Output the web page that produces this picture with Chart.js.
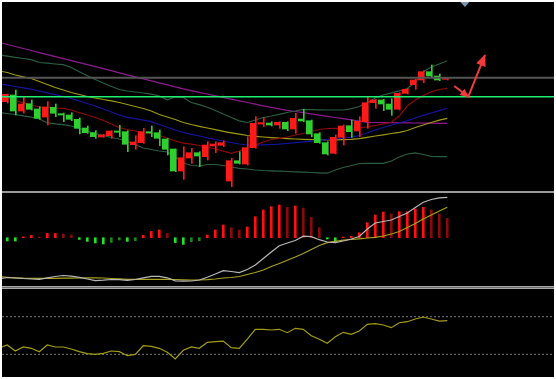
<!DOCTYPE html>
<html><head><meta charset="utf-8">
<script src="https://cdn.jsdelivr.net/npm/chart.js@4.4.1/dist/chart.umd.min.js"></script>
<style>
html,body{margin:0;padding:0;background:#fff;width:556px;height:379px;overflow:hidden;}
#frame{position:absolute;left:2px;top:2px;width:552px;height:375px;background:#000;}
canvas{position:absolute;left:0;}
.sep{position:absolute;left:0;width:552px;}
</style></head><body>
<div id="frame">
<canvas id="main" width="552" height="189" style="top:0"></canvas>
<div class="sep" style="top:189px;height:2px;background:#9a9a9a"></div>
<canvas id="macd" width="552" height="93" style="top:191px"></canvas>
<div class="sep" style="top:284px;height:3px;background:linear-gradient(#a8a8a8 0,#a8a8a8 1px,#6a6a6a 1px,#6a6a6a 2px,#a8a8a8 2px)"></div>
<canvas id="rsi" width="552" height="88" style="top:287px"></canvas>
</div>
<script>
// ---------- DATA ----------
// daily candles (index 0..55)
const open  = [9.83,10.50,8.90,9.63,9.10,8.30,9.27,8.63,8.50,8.07, 7.20,6.73,6.30,6.43,6.90,6.83,5.53,5.73,6.83,6.73, 6.10,5.10,2.90,4.20,4.73,4.33,5.40,5.47,1.90,3.93, 3.60,5.23,7.60,7.70,7.50,7.77,7.10,8.10,7.93,6.63, 5.73,4.67,6.27,7.43,6.90,7.83,9.73,10.00,9.60,9.07, 10.67,11.53,12.00,12.83,12.40,12.07];
const high  = [10.60,11.00,10.30,10.00,9.33,9.83,9.60,8.70,8.73,8.20, 7.40,6.93,6.57,6.93,7.47,6.93,6.43,7.17,7.40,7.00, 6.17,5.10,5.33,5.17,4.83,5.83,5.83,5.93,4.17,4.83, 6.33,8.33,8.27,7.83,7.83,7.83,8.67,9.07,8.00,6.73, 5.83,6.50,7.50,8.00,8.33,10.33,10.07,10.07,10.13,10.73, 11.17,12.07,12.93,13.50,12.60,12.27];
const low   = [9.70,8.50,8.70,9.00,8.07,7.50,8.33,7.83,7.93,6.60, 6.67,6.17,6.27,6.17,6.33,4.83,5.07,5.67,6.33,5.43, 4.50,2.83,2.07,3.67,3.33,4.00,4.73,5.33,1.33,3.60, 3.50,5.17,7.33,7.40,7.17,6.93,6.67,7.83,6.33,5.67, 4.50,4.60,5.50,6.27,6.33,7.17,9.17,8.93,8.47,9.00, 10.60,11.07,11.73,12.33,11.93,12.00];
const close = [10.57,8.90,9.60,9.07,8.17,9.30,8.67,8.50,8.07,7.17, 6.73,6.33,6.50,6.90,6.77,5.57,5.80,6.83,6.70,6.17, 5.07,2.90,4.23,4.73,4.40,5.50,5.60,5.73,3.93,3.67, 5.23,7.67,7.73,7.50,7.77,7.10,8.17,7.90,6.60,5.73, 4.60,6.27,7.40,6.83,7.87,9.73,10.00,9.60,9.07,10.67, 11.07,12.00,12.83,12.40,12.00,12.20];

// indicator lines start one day earlier (index -1 .. 55)
const lineStart = -1;
const maLong   = [15.75,15.55,15.35,15.15,14.95,14.74,14.54,14.34,14.14,13.94,13.73,13.53,13.33,13.13,12.93,12.72,12.52,12.32,12.12,11.92,11.71,11.51,11.31,11.11,10.94,10.77,10.60,10.42,10.25,10.08,9.92,9.75,9.58,9.42,9.26,9.11,8.97,8.85,8.73,8.61,8.49,8.37,8.25,8.13,8.01,7.89,7.77,7.75,7.74,7.73,7.72,7.71,7.70,7.69,7.68,7.67,7.67];
const bandUp   = [14.50,14.39,14.27,14.15,14.03,13.75,13.68,13.60,13.53,13.25,12.82,12.43,12.05,11.70,11.35,11.05,10.90,10.80,10.70,10.58,10.40,10.02,10.30,10.25,9.75,9.53,9.28,8.95,8.60,8.25,7.92,7.75,8.00,8.25,8.40,8.57,8.75,8.90,9.07,9.04,9.02,9.00,9.00,9.00,9.14,9.35,9.75,10.20,10.50,10.72,10.92,11.15,11.80,12.83,13.30,13.60,13.92];
const bandLow  = [8.73,8.65,8.55,8.42,8.28,8.10,7.73,7.62,7.54,7.40,7.15,6.90,6.65,6.45,6.25,6.10,5.85,5.55,5.20,5.05,4.90,4.80,4.30,3.70,3.45,3.40,3.55,3.55,3.45,3.30,3.17,3.10,3.00,2.95,2.92,2.88,2.85,2.82,2.78,2.75,2.72,2.68,3.00,3.25,3.45,3.65,3.67,3.67,3.67,3.90,4.30,4.60,4.72,4.55,4.35,4.33,4.33];
const maOlive  = [12.90,12.75,12.50,12.32,12.15,11.85,11.55,11.25,11.00,10.75,10.55,10.35,10.20,10.05,9.92,9.75,9.55,9.35,9.15,8.90,8.55,8.30,8.05,7.75,7.55,7.37,7.20,7.03,6.87,6.72,6.58,6.45,6.37,6.30,6.24,6.18,6.14,6.10,6.07,6.04,6.01,6.00,6.01,6.03,6.06,6.14,6.27,6.40,6.52,6.65,6.77,6.95,7.25,7.50,7.75,7.98,8.17];
const maBlue   = [11.60,11.48,11.35,11.22,11.08,10.90,10.72,10.54,10.35,10.15,9.90,9.65,9.40,9.10,8.80,8.50,8.27,8.13,7.98,7.83,7.55,7.27,7.00,6.75,6.57,6.40,6.22,6.05,5.90,5.75,5.60,5.50,5.50,5.52,5.55,5.58,5.65,5.73,5.81,5.89,5.96,6.04,6.12,6.20,6.27,6.45,6.70,7.00,7.25,7.50,7.70,7.92,8.20,8.47,8.70,8.93,9.17];
const maRed    = [10.35,10.22,9.95,9.72,9.50,9.30,9.25,9.20,9.17,9.00,8.73,8.50,8.25,7.95,7.60,7.25,7.05,6.90,6.75,6.67,6.45,6.20,5.90,5.68,5.58,5.45,5.30,5.10,4.88,4.67,4.90,5.25,5.50,5.80,6.05,6.15,6.30,6.50,6.65,6.85,7.05,7.15,7.17,6.95,7.05,7.20,7.32,7.45,7.60,7.77,8.40,9.40,10.00,10.45,10.82,11.05,11.17];

// horizontal levels
const levelGray  = 12.23;
const levelGreen = 10.33;

// hand-drawn arrow path (day index, price)
const arrowX = [55.875, 57.625, 59.71];
const arrowY = [11.40, 10.33, 14.50];
const markerX = 57.2;

// MACD histogram (0..55) and DIF / DEA lines (-1..55)
const macdHist = [-0.033,-0.033,0.008,0.023,0.007,0.043,0.043,0.037,0.027,-0.017, -0.037,-0.053,-0.063,-0.047,-0.023,-0.037,-0.030,0.023,0.063,0.077, 0.043,-0.050,-0.067,-0.040,-0.030,0.027,0.077,0.127,0.100,0.077, 0.107,0.210,0.277,0.310,0.327,0.303,0.317,0.293,0.203,0.100, -0.013,-0.040,0.007,0.013,0.050,0.150,0.227,0.257,0.237,0.260, 0.260,0.287,0.303,0.277,0.237,0.193];
const dif = [-0.413,-0.398,-0.403,-0.408,-0.413,-0.416,-0.401,-0.388,-0.378,-0.385,-0.396,-0.413,-0.429,-0.425,-0.418,-0.419,-0.427,-0.418,-0.401,-0.386,-0.386,-0.401,-0.431,-0.435,-0.433,-0.423,-0.396,-0.363,-0.330,-0.338,-0.349,-0.318,-0.273,-0.208,-0.143,-0.080,-0.053,-0.028,0.015,0.010,-0.020,-0.043,-0.049,-0.033,-0.013,0.012,0.087,0.147,0.162,0.177,0.212,0.247,0.302,0.354,0.382,0.399,0.404];
const dea = [-0.391,-0.396,-0.401,-0.405,-0.406,-0.406,-0.406,-0.406,-0.405,-0.404,-0.403,-0.401,-0.401,-0.403,-0.408,-0.412,-0.416,-0.416,-0.416,-0.416,-0.416,-0.416,-0.418,-0.421,-0.423,-0.423,-0.419,-0.413,-0.403,-0.398,-0.388,-0.368,-0.348,-0.323,-0.288,-0.258,-0.225,-0.193,-0.158,-0.118,-0.078,-0.050,-0.037,-0.025,-0.018,-0.011,-0.003,0.004,0.017,0.037,0.062,0.102,0.142,0.187,0.227,0.267,0.304];

// RSI (-1..55) and its guide levels
const rsi = [30.2,34.9,25.3,31.7,29.6,24.2,34.9,31.7,31.7,28.5,24.2,21.0,20.0,21.6,25.3,24.2,17.8,20.0,33.7,32.8,29.6,23.2,12.5,26.4,31.7,29.6,39.2,40.1,41.2,30.6,29.6,44.4,59.9,59.9,58.8,59.9,54.5,61.5,59.9,49.7,44.0,37.6,48.1,55.1,51.9,57.2,67.9,68.8,66.8,62.5,70.4,72.0,76.3,79.5,76.3,73.1,73.6];
const rsiLevels = [80, 20];

// ---------- CHARTS ----------
const X_MIN = -0.6625, X_MAX = 68.3375;
const UP = '#ff1a1a', DOWN = '#2fcf2f';
const fromLine = arr => arr.map((v,k)=>({x:k+lineStart, y:v}));
const days = open.map((_,i)=>i);
const xScale = {type:'linear', min:X_MIN, max:X_MAX, display:false, offset:false};
const baseOpts = (ymin,ymax)=>({
  responsive:false, animation:false, devicePixelRatio:1, events:[],
  layout:{padding:0},
  plugins:{legend:{display:false}, tooltip:{enabled:false}},
  scales:{x:xScale, y:{type:'linear', min:ymin, max:ymax, display:false}}
});
const line = (data,color,w,order,extra)=>Object.assign({type:'line', data, borderColor:color, borderWidth:w, pointRadius:0, tension:0, fill:false, order}, extra||{});
const hline = (v,color,w,order,extra)=>line([{x:X_MIN-1,y:v},{x:X_MAX+1,y:v}],color,w,order,extra);
const candleColor = ctx => close[ctx.dataIndex] >= open[ctx.dataIndex] ? UP : DOWN;

const arrowPlugin = {id:'arrows', afterDatasetsDraw(chart){
  const c = chart.ctx, xs = chart.scales.x, ys = chart.scales.y;
  const pts = arrowX.map((x,k)=>[xs.getPixelForValue(x), ys.getPixelForValue(arrowY[k])]);
  c.save();
  c.fillStyle = '#f23b3b';
  for (let k=1;k<pts.length;k++){
    const [x0,y0]=pts[k-1], [x1,y1]=pts[k];
    const a = Math.atan2(y1-y0,x1-x0);
    const L = k===1?8:11, W = k===1?4:5;
    const bx = x1-L*Math.cos(a), by = y1-L*Math.sin(a);
    c.beginPath();
    c.moveTo(x1+Math.cos(a),y1+Math.sin(a));
    c.lineTo(bx+W*Math.sin(a), by-W*Math.cos(a));
    c.lineTo(bx-W*Math.sin(a), by+W*Math.cos(a));
    c.closePath(); c.fill();
  }
  const mx = xs.getPixelForValue(markerX), top = chart.chartArea.top;
  c.fillStyle = '#8196aa';
  c.beginPath(); c.moveTo(mx-4.5,top); c.lineTo(mx+4.5,top); c.lineTo(mx,top+5); c.closePath(); c.fill();
  c.restore();
}};

new Chart(document.getElementById('main'), {
  type:'bar',
  data:{datasets:[
    line(arrowX.map((x,k)=>({x, y:arrowY[k]})), '#f23b3b', 2, -2),
    hline(levelGreen, '#1ef070', 1.5, -1),
    hline(levelGray, '#555555', 2, -1),
    {type:'bar', data:days.map(i=>({x:i, y:[open[i], close[i]]})), backgroundColor:candleColor, barThickness:5, order:0},
    {type:'bar', data:days.map(i=>({x:i, y:[low[i], high[i]]})), backgroundColor:candleColor, barThickness:1, order:1},
    line(fromLine(maRed), '#8e0a0a', 1.2, 2),
    line(fromLine(maBlue), '#1414a0', 1.2, 2),
    line(fromLine(maOlive), '#a09a12', 1.2, 2),
    line(fromLine(bandUp), '#2a5e42', 1.2, 2),
    line(fromLine(bandLow), '#2a5e42', 1.2, 2),
    line(fromLine(maLong), '#8f1a8f', 1.2, 2)
  ]},
  options: baseOpts(0.9, 19.8),
  plugins:[arrowPlugin]
});

const histColor = ctx => {
  const i = ctx.dataIndex, v = macdHist[i], p = i>0 ? macdHist[i-1] : v;
  if (v >= 0) return v >= p ? '#ff1010' : '#8a0a0a';
  return v <= p ? '#22e022' : '#178a17';
};
new Chart(document.getElementById('macd'), {
  type:'bar',
  data:{datasets:[
    line(fromLine(dif), '#b8b8b8', 1.2, 0),
    line(fromLine(dea), '#a8a21e', 1.2, 1),
    {type:'bar', data:days.map(i=>({x:i, y:macdHist[i]})), backgroundColor:histColor, barThickness:2, order:2}
  ]},
  options: baseOpts(-0.483, 0.447)
});

new Chart(document.getElementById('rsi'), {
  type:'bar',
  data:{datasets:[
    line(fromLine(rsi), '#a39c14', 1.2, 0),
    ...rsiLevels.map(v=>hline(v, '#7a7a7a', 1, 1, {borderDash:[2,2]}))
  ]},
  options: baseOpts(-16.17, 124.18)
});
</script>
</body></html>
